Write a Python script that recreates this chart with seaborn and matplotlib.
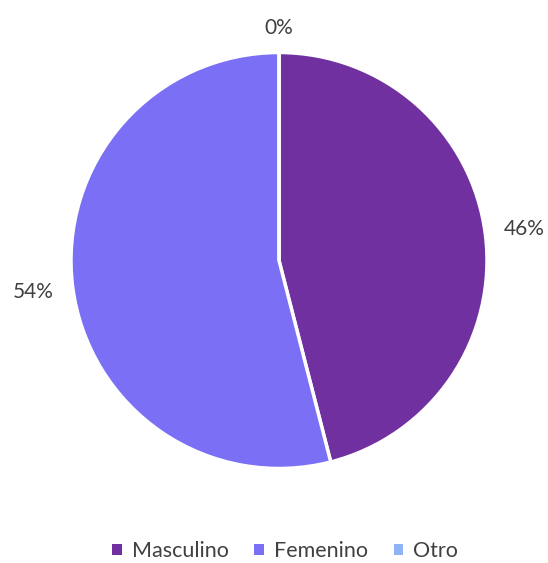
import numpy as np
import matplotlib
matplotlib.use('Agg')
import matplotlib.pyplot as plt
import seaborn as sns
from matplotlib.patches import Patch

sns.set_theme(style='white')
plt.rcParams['font.family'] = ['Lato', 'DejaVu Sans']

# Data
categories = ['Masculino', 'Femenino', 'Otro']
values = [46, 54, 0]
colors = ['#7030A0', '#7B6FF5', '#8FB4F5']
text_color = '#404040'

W, H = 548, 563
fig = plt.figure(figsize=(W / 100, H / 100), dpi=100)
cx, cy, r = 279, 302.5, 208
ax = fig.add_axes([(cx - r) / W, (cy - r) / H, 2 * r / W, 2 * r / H])

wedges, texts, autotexts = ax.pie(
    values, colors=colors, startangle=90, counterclock=False,
    autopct='%1.0f%%', pctdistance=1.19, radius=1,
    wedgeprops=dict(edgecolor='white', linewidth=2.5),
    textprops=dict(color=text_color, fontsize=15))
# the 0% label sits a bit closer to the pie
autotexts[2].set_position((0, 1.12))

ax.set_xlim(-1, 1)
ax.set_ylim(-1, 1)
ax.set_aspect('equal')
ax.axis('off')

handles = [Patch(facecolor=c, edgecolor='none') for c in colors]
fig.legend(handles, categories, loc='center', bbox_to_anchor=(285 / W, 1 - 551 / H),
           ncol=3, frameon=False, fontsize=15.5, handlelength=0.45, handleheight=0.45,
           handletextpad=0.45, columnspacing=1.2, labelcolor=text_color,
           borderpad=0.2)

fig.savefig('out.png', dpi=100)
